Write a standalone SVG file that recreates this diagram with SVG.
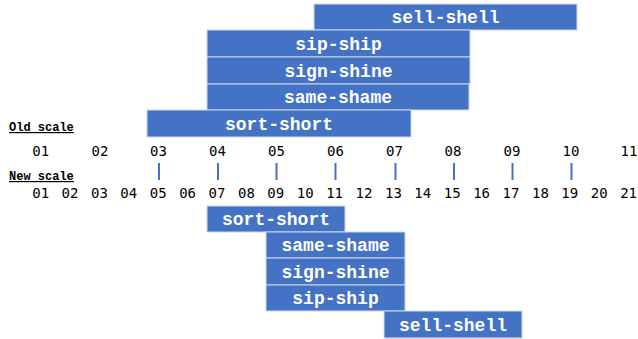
<svg xmlns="http://www.w3.org/2000/svg" width="638" height="339" viewBox="0 0 638 339">
<style>
.box{fill:#4472C4;stroke:#cfd8ea;stroke-width:1}
.bl{font-family:"Liberation Mono","Courier New",monospace;font-weight:bold;font-size:18px;fill:#ffffff;text-anchor:middle}
.lab{font-family:"Liberation Mono","Courier New",monospace;font-weight:bold;font-size:12px;fill:#000;text-decoration:underline}
.num{font-family:"DejaVu Sans Mono",monospace;font-size:14px;fill:#000;text-anchor:middle}
.tick{stroke:#4472C4;stroke-width:2}
</style>
<rect width="638" height="339" fill="#ffffff"/>
<g id="top-sell-shell"><rect class="box" x="314" y="4" width="263" height="26"/><text class="bl" x="445.5" y="23">sell-shell</text></g>
<g id="top-sip-ship"><rect class="box" x="207" y="30" width="263" height="27"/><text class="bl" x="338.5" y="49.5">sip-ship</text></g>
<g id="top-sign-shine"><rect class="box" x="207" y="57" width="263" height="27"/><text class="bl" x="338.5" y="76.5">sign-shine</text></g>
<g id="top-same-shame"><rect class="box" x="207" y="84" width="262" height="26"/><text class="bl" x="338" y="103">same-shame</text></g>
<g id="top-sort-short"><rect class="box" x="147" y="110" width="264" height="27"/><text class="bl" x="279" y="129.5">sort-short</text></g>
<g id="old-scale-label"><text class="lab" x="9" y="131">Old scale</text></g>
<g id="old-scale">
<text class="num" x="40.7" y="156">01</text>
<text class="num" x="100" y="156">02</text>
<text class="num" x="158.5" y="156">03</text>
<text class="num" x="217.5" y="156">04</text>
<text class="num" x="276.5" y="156">05</text>
<text class="num" x="335.5" y="156">06</text>
<text class="num" x="394.5" y="156">07</text>
<text class="num" x="453" y="156">08</text>
<text class="num" x="512" y="156">09</text>
<text class="num" x="571" y="156">10</text>
<text class="num" x="629" y="156">11</text>
</g>
<g id="connectors">
<line class="tick" x1="159" y1="163" x2="159" y2="180"/>
<line class="tick" x1="218" y1="163" x2="218" y2="180"/>
<line class="tick" x1="276.5" y1="163" x2="276.5" y2="180"/>
<line class="tick" x1="335.5" y1="163" x2="335.5" y2="180"/>
<line class="tick" x1="395.5" y1="163" x2="395.5" y2="180"/>
<line class="tick" x1="454" y1="163" x2="454" y2="180"/>
<line class="tick" x1="512.5" y1="163" x2="512.5" y2="180"/>
<line class="tick" x1="571.5" y1="163" x2="571.5" y2="180"/>
</g>
<g id="new-scale-label"><text class="lab" x="9" y="180">New scale</text></g>
<g id="new-scale">
<text class="num" x="40.7" y="198">01</text>
<text class="num" x="70" y="198">02</text>
<text class="num" x="99.5" y="198">03</text>
<text class="num" x="128.8" y="198">04</text>
<text class="num" x="158.2" y="198">05</text>
<text class="num" x="187.6" y="198">06</text>
<text class="num" x="217" y="198">07</text>
<text class="num" x="246.4" y="198">08</text>
<text class="num" x="275.8" y="198">09</text>
<text class="num" x="305.2" y="198">10</text>
<text class="num" x="334.6" y="198">11</text>
<text class="num" x="364" y="198">12</text>
<text class="num" x="393.4" y="198">13</text>
<text class="num" x="422.8" y="198">14</text>
<text class="num" x="452.2" y="198">15</text>
<text class="num" x="481.6" y="198">16</text>
<text class="num" x="511" y="198">17</text>
<text class="num" x="540.4" y="198">18</text>
<text class="num" x="569.8" y="198">19</text>
<text class="num" x="599.2" y="198">20</text>
<text class="num" x="628.6" y="198">21</text>
</g>
<g id="bottom-sort-short"><rect class="box" x="207" y="206" width="138" height="26"/><text class="bl" x="276" y="225">sort-short</text></g>
<g id="bottom-same-shame"><rect class="box" x="266" y="232" width="139" height="26"/><text class="bl" x="335.5" y="251">same-shame</text></g>
<g id="bottom-sign-shine"><rect class="box" x="266" y="258" width="139" height="27"/><text class="bl" x="335.5" y="277.5">sign-shine</text></g>
<g id="bottom-sip-ship"><rect class="box" x="266" y="285" width="139" height="26"/><text class="bl" x="335.5" y="304">sip-ship</text></g>
<g id="bottom-sell-shell"><rect class="box" x="384" y="311" width="138" height="27"/><text class="bl" x="453" y="330.5">sell-shell</text></g>
</svg>
